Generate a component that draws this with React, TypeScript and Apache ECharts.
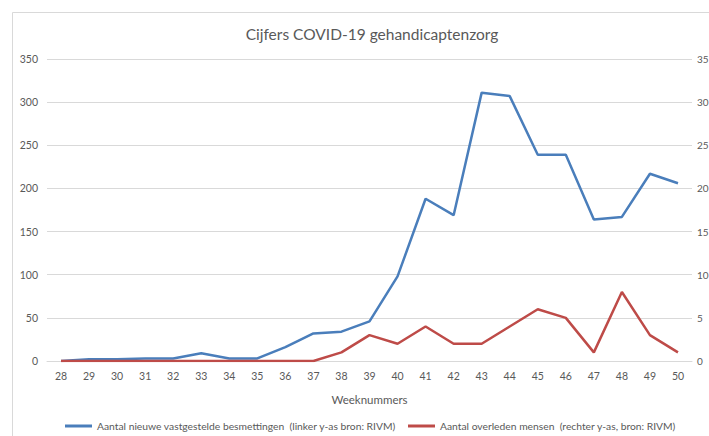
import React, { useEffect, useRef } from "react";
import * as echarts from "echarts";

const weeks = ["28","29","30","31","32","33","34","35","36","37","38","39","40","41","42","43","44","45","46","47","48","49","50"];
const besmettingen = [0, 2, 2, 3, 3, 9, 3, 3, 16, 32, 34, 46, 98, 188, 169, 311, 307, 239, 239, 164, 167, 217, 206];
const overleden = [0, 0, 0, 0, 0, 0, 0, 0, 0, 0, 1, 3, 2, 4, 2, 2, 4, 6, 5, 1, 8, 3, 1];
const leftTicks = { min: 0, max: 350, interval: 50 };
const rightTicks = { min: 0, max: 35, interval: 5 };
const seriesNames = [
  "Aantal nieuwe vastgestelde besmettingen  (linker y-as bron: RIVM)",
  "Aantal overleden mensen  (rechter y-as, bron: RIVM)",
];

const FONT = "Lato, 'Open Sans', sans-serif";
const TXT = "#595959";

export default function App() {
  const ref = useRef<HTMLDivElement>(null);
  useEffect(() => {
    if (!ref.current) return;
    const chart = echarts.init(ref.current, undefined, { renderer: "svg" });
    const legendBase = {
      top: 421,
      padding: 0,
      itemWidth: 27,
      itemHeight: 3,
      icon: "rect",
      textStyle: { fontFamily: FONT, fontSize: 10.3, color: TXT },
    };
    chart.setOption({
      animation: false,
      backgroundColor: "#ffffff",
      textStyle: { fontFamily: FONT, color: TXT },
      title: {
        text: "Cijfers COVID-19 gehandicaptenzorg",
        left: 367,
        textAlign: "center",
        top: 21,
        textStyle: { fontFamily: FONT, fontSize: 15.5, fontWeight: "normal", color: TXT },
      },
      graphic: [
        {
          type: "rect",
          shape: { x: 12.5, y: 12.5, width: 720, height: 440 },
          style: { fill: "none", stroke: "#d9d9d9", lineWidth: 1 },
          silent: true,
          z: -1,
        },
      ],
      legend: [
        { ...legendBase, left: 65, data: [seriesNames[0]] },
        { ...legendBase, left: 408, data: [seriesNames[1]] },
      ],
      grid: { left: 47, right: 17, top: 59, bottom: 75, containLabel: false, outerBoundsMode: "none" },
      xAxis: {
        type: "category",
        data: weeks,
        boundaryGap: true,
        name: "Weeknummers",
        nameLocation: "middle",
        nameGap: 32,
        nameTextStyle: { fontFamily: FONT, fontSize: 11.5, color: TXT },
        axisLine: { show: true, lineStyle: { color: "#d9d9d9", width: 1 } },
        axisTick: { show: false },
        axisLabel: { fontFamily: FONT, fontSize: 10.5, color: TXT, margin: 9 },
      },
      yAxis: [
        {
          type: "value",
          min: leftTicks.min,
          max: leftTicks.max,
          interval: leftTicks.interval,
          axisLine: { show: false },
          axisTick: { show: false },
          axisLabel: { fontFamily: FONT, fontSize: 10.5, color: TXT, margin: 9 },
          splitLine: { lineStyle: { color: "#d9d9d9", width: 1 } },
        },
        {
          type: "value",
          min: rightTicks.min,
          max: rightTicks.max,
          interval: rightTicks.interval,
          position: "right",
          axisLine: { show: false },
          axisTick: { show: false },
          axisLabel: { fontFamily: FONT, fontSize: 10, color: TXT, margin: 5 },
          splitLine: { show: false },
        },
      ],
      series: [
        {
          name: seriesNames[0],
          type: "line",
          yAxisIndex: 0,
          data: besmettingen,
          symbol: "none",
          lineStyle: { color: "#4a7ebb", width: 2.5 },
          itemStyle: { color: "#4a7ebb" },
        },
        {
          name: seriesNames[1],
          type: "line",
          yAxisIndex: 1,
          data: overleden,
          symbol: "none",
          lineStyle: { color: "#be4b48", width: 2.5 },
          itemStyle: { color: "#be4b48" },
        },
      ],
    });
    return () => chart.dispose();
  }, []);
  return (
    <div
      ref={ref}
      style={{ position: "fixed", left: 0, top: 0, width: 709, height: 436 }}
    />
  );
}
